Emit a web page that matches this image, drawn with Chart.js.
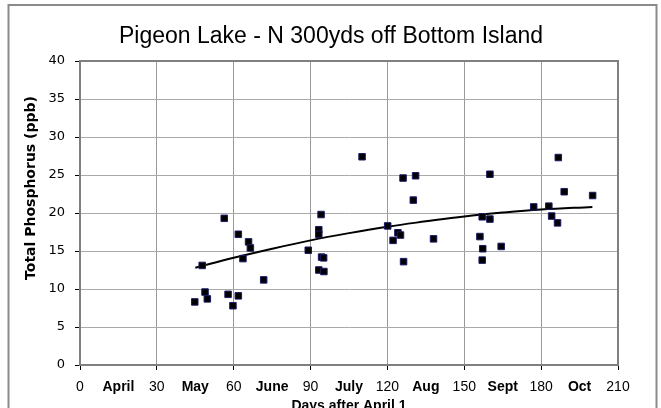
<!DOCTYPE html>
<html>
<head>
<meta charset="utf-8">
<script src="https://cdn.jsdelivr.net/npm/chart.js@4"></script>
<style>
  html, body { margin: 0; padding: 0; background: #fff; }
  #wrap { width: 661px; height: 408px; }
</style>
</head>
<body>
<div id="wrap"><canvas id="tpChart" width="661" height="408"></canvas></div>
<script>
// sample days (after April 1) and total phosphorus readings (ppb)
var sampleDays = [
  56.3, 61.8, 65.8, 66.5, 63.6, 47.7, 71.7, 48.8, 49.7, 44.8, 57.8, 61.8, 59.7,
  110.1, 126.1, 131.0, 130.1, 94.1, 93.2, 93.2, 89.1, 120.1, 124.1, 125.1, 122.2,
  138.0, 126.3, 94.3, 95.1, 93.2, 95.2,
  160.0, 186.7, 189.0, 200.1, 177.1, 183.0, 184.1, 186.4, 157.0, 160.0, 156.1,
  157.2, 164.4, 157.0
];
var phosphorus = [
  19.3, 17.2, 16.2, 15.4, 14.0, 13.1, 11.2, 9.6, 8.7, 8.3, 9.3, 9.1, 7.8,
  27.4, 24.6, 24.9, 21.7, 19.8, 17.8, 17.2, 15.1, 18.3, 17.4, 17.1, 16.4,
  16.6, 13.6, 14.2, 14.1, 12.5, 12.3,
  25.1, 27.3, 22.8, 22.3, 20.8, 20.9, 19.6, 18.7, 19.5, 19.2, 16.9,
  15.3, 15.6, 13.8
];

// trend line
var trendDays = [45, 60, 75, 90, 105, 120, 135, 150, 165, 180, 200];
var trendValues = [12.8, 14.1, 15.3, 16.4, 17.35, 18.2, 18.9, 19.55, 20.05, 20.45, 20.8];

// x tick labels: numbers every 30 days, month names in between
var dayTicks = [0, 30, 60, 90, 120, 150, 180, 210];
var monthLabels = ['April', 'May', 'June', 'July', 'Aug', 'Sept', 'Oct'];

var scatterPoints = sampleDays.map(function (d, i) { return { x: d, y: phosphorus[i] }; });
var trendPoints = trendDays.map(function (d, i) { return { x: d, y: trendValues[i] }; });

function isDayTick(v) { return dayTicks.indexOf(v) !== -1; }

// titles and the outer frame
var decorPlugin = {
  id: 'decor',
  beforeDraw: function (chart) {
    var c = chart.ctx;
    c.save();
    c.fillStyle = '#fff';
    c.fillRect(0, 0, chart.width, chart.height);
    c.strokeStyle = '#8a8a8a';
    c.lineWidth = 2;
    c.beginPath();
    c.moveTo(8.5, 420);
    c.lineTo(8.5, 5);
    c.lineTo(656.5, 5);
    c.lineTo(656.5, 420);
    c.stroke();
    c.restore();
  },
  afterDraw: function (chart) {
    var c = chart.ctx;
    var a = chart.chartArea;
    c.save();
    c.strokeStyle = '#808080';
    c.lineWidth = 2;
    c.strokeRect(a.left, a.top, a.right - a.left, a.bottom - a.top);

    c.fillStyle = '#000';
    c.textAlign = 'center';
    c.textBaseline = 'alphabetic';
    c.font = '23px "Liberation Sans", Arial, sans-serif';
    c.fillText('Pigeon Lake - N 300yds off Bottom Island', 331, 43);

    c.font = 'bold 14px "Liberation Sans", Arial, sans-serif';
    c.fillText('Days after April 1', (a.left + a.right) / 2, 410);

    c.translate(35, 188);
    c.rotate(-Math.PI / 2);
    c.font = 'bold 14px "DejaVu Sans", sans-serif';
    c.fillText('Total Phosphorus (ppb)', 0, 0);
    c.restore();
  }
};

var ctx = document.getElementById('tpChart').getContext('2d');

var tpChart = new Chart(ctx, {
  type: 'scatter',
  data: {
    datasets: [{
      label: 'Total Phosphorus',
      data: scatterPoints,
      pointStyle: 'rect',
      pointRadius: 4.6,
      pointHoverRadius: 4.6,
      backgroundColor: '#000',
      borderColor: '#1a1a66',
      borderWidth: 1,
      order: 1
    }, {
      label: 'Trend',
      data: trendPoints,
      showLine: true,
      pointRadius: 0,
      borderColor: '#000',
      borderWidth: 2,
      tension: 0.4,
      fill: false,
      order: 2
    }]
  },
  options: {
    responsive: false,
    animation: false,
    events: [],
    layout: { padding: { left: 0, right: 43, top: 61, bottom: 0 } },
    plugins: {
      legend: { display: false },
      title: { display: false },
      tooltip: { enabled: false }
    },
    scales: {
      x: {
        type: 'linear',
        min: 0,
        max: 210,
        afterFit: function (scale) { scale.height = 43; },
        afterBuildTicks: function (scale) {
          var t = [];
          for (var i = 0; i < dayTicks.length; i++) {
            t.push({ value: dayTicks[i] });
            if (i < monthLabels.length) t.push({ value: dayTicks[i] + 15 });
          }
          scale.ticks = t;
        },
        ticks: {
          autoSkip: false,
          maxRotation: 0,
          padding: 9,
          color: '#000',
          callback: function (v) {
            if (isDayTick(v)) return String(v);
            return monthLabels[Math.floor(v / 30)];
          },
          font: function (c) {
            var v = c.tick ? c.tick.value : 0;
            if (isDayTick(v)) return { family: '"Liberation Sans", Arial, sans-serif', size: 14 };
            return { family: '"Liberation Sans", Arial, sans-serif', size: 14, weight: 'bold' };
          }
        },
        grid: {
          color: function (c) { return c.tick && isDayTick(c.tick.value) ? '#999' : 'rgba(0,0,0,0)'; },
          tickColor: function (c) { return c.tick && isDayTick(c.tick.value) ? '#000' : 'rgba(0,0,0,0)'; },
          tickLength: 5,
          lineWidth: 1
        },
        border: { color: '#808080', width: 2 }
      },
      y: {
        min: 0,
        max: 40,
        afterFit: function (scale) { scale.width = 80; },
        ticks: {
          stepSize: 5,
          padding: 10,
          color: '#000',
          font: { family: '"DejaVu Sans", sans-serif', size: 13 }
        },
        grid: {
          color: '#aaa',
          tickColor: '#000',
          tickLength: 5,
          lineWidth: 1
        },
        border: { color: '#808080', width: 2 }
      }
    }
  },
  plugins: [decorPlugin]
});
</script>
</body>
</html>
